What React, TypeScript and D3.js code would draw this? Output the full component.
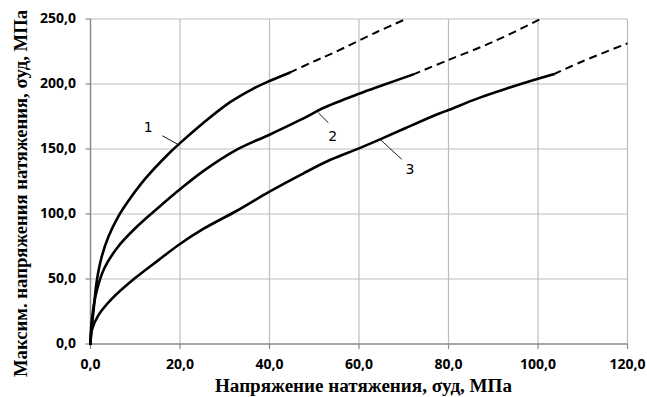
import React from "react";
import * as d3 from "d3";

// Measured curves: [σуд, max stress], MPa
const curve1: [number, number][] = [
  [0, 0], [0.2, 10], [0.63, 24], [1.38, 48], [2.5, 67], [4.0, 82.5], [6.2, 98],
  [8.45, 110], [12.2, 127], [17.8, 147.5], [20, 154.5], [25.2, 170], [31.2, 186],
  [36.4, 196.5], [40, 202.3], [44.5, 208.7],
];
const curve2: [number, number][] = [
  [0, 0], [0.25, 17], [1.4, 41], [3.2, 59], [6.2, 75], [10, 89], [15.2, 105],
  [20, 119], [25.2, 133], [32.7, 149.5], [40, 161], [47.6, 173.5], [52, 181.5],
  [60, 192.5], [65.4, 199.2], [72, 207.2],
];
const curve3: [number, number][] = [
  [0, 0], [0.27, 10.5], [1.75, 22], [4.7, 34.5], [9.9, 50.5], [15.2, 64.5],
  [19.6, 76], [25.2, 88.5], [32.7, 102.5], [40, 117.2], [47.6, 131.3], [53.5, 141.5],
  [60, 150.5], [64.7, 157.4], [71, 167], [78.1, 177.5], [80, 180], [87, 189.5],
  [93, 196.5], [100, 204], [103.5, 207.5],
];

// Extrapolated continuations (dashed)
const trend1: [number, number][] = [[44.5, 208.7], [49.8, 217.2], [54.3, 224], [64, 240], [70.5, 250]];
const trend2: [number, number][] = [[72, 207.2], [80, 218.5], [90, 232.5], [100.6, 250]];
const trend3: [number, number][] = [[103.5, 207.5], [110, 217.5], [120, 231.3]];

const xTicks = [0, 20, 40, 60, 80, 100, 120];
const yTicks = [0, 50, 100, 150, 200, 250];

// Curve labels with leader lines: [text position, leader start, leader end]
const curveLabels: { text: string; at: [number, number]; from: [number, number]; to: [number, number] }[] = [
  { text: "1", at: [12.92, 162.8], from: [16.04, 160.2], to: [19.55, 153.5] },
  { text: "2", at: [54.12, 156.4], from: [50.9, 177.9], to: [53.14, 170.2] },
  { text: "3", at: [71.4, 130.8], from: [64.69, 157.5], to: [69.54, 142.1] },
];

const xTitle = "Напряжение натяжения, σуд, МПа";
const yTitle = "Максим. напряжения натяжения, σуд, МПа";

const W = 647;
const H = 397;

const fmt = (v: number) => v.toFixed(1).replace(".", ",");

export default function App() {
  const x = d3.scaleLinear().domain([0, 120]).range([90.5, 627.5]);
  const y = d3.scaleLinear().domain([0, 250]).range([344, 19]);

  const line = d3
    .line<[number, number]>()
    .x((d) => x(d[0]))
    .y((d) => y(d[1]))
    .curve(d3.curveCatmullRom.alpha(0.5));

  const tickFont = "'Open Sans', sans-serif";
  const labelFont = "'DejaVu Sans', sans-serif";
  const titleFont = "'Liberation Serif', 'Times New Roman', serif";

  return (
    <svg
      width={W}
      height={H}
      style={{ position: "absolute", left: 0, top: 0, background: "#fff" }}
    >
      <rect x={0} y={0} width={W} height={H} fill="#fff" />
      {/* grid */}
      {xTicks.slice(1).map((t) => (
        <line key={"gx" + t} x1={x(t)} x2={x(t)} y1={y(0)} y2={y(250)} stroke="#bdbdbd" strokeWidth={1.2} />
      ))}
      {yTicks.slice(1).map((t) => (
        <line key={"gy" + t} x1={x(0)} x2={x(120)} y1={y(t)} y2={y(t)} stroke="#bdbdbd" strokeWidth={1.2} />
      ))}
      {/* axes */}
      <line x1={x(0)} x2={x(0)} y1={y(0)} y2={y(250)} stroke="#8a8a8a" strokeWidth={1.5} />
      <line x1={x(0)} x2={x(120)} y1={y(0)} y2={y(0)} stroke="#8a8a8a" strokeWidth={1.5} />
      {yTicks.map((t) => (
        <line key={"ty" + t} x1={x(0) - 5} x2={x(0)} y1={y(t)} y2={y(t)} stroke="#8a8a8a" strokeWidth={1.2} />
      ))}
      {xTicks.map((t) => (
        <line key={"tx" + t} x1={x(t)} x2={x(t)} y1={y(0)} y2={y(0) + 5} stroke="#8a8a8a" strokeWidth={1.2} />
      ))}
      {/* tick labels */}
      {yTicks.map((t) => (
        <text
          key={"ly" + t}
          x={76}
          y={y(t) + 4}
          textAnchor="end"
          fontFamily={tickFont}
          fontWeight="bold"
          fontSize={14}
          fill="#000"
        >
          {fmt(t)}
        </text>
      ))}
      {xTicks.map((t) => (
        <text
          key={"lx" + t}
          x={x(t)}
          y={368.7}
          textAnchor="middle"
          fontFamily={tickFont}
          fontWeight="bold"
          fontSize={14}
          fill="#000"
        >
          {fmt(t)}
        </text>
      ))}
      {/* curves */}
      {[trend1, trend2, trend3].map((d, i) => (
        <path key={"tr" + i} d={line(d) || ""} fill="none" stroke="#000" strokeWidth={2} strokeDasharray="8,5" />
      ))}
      {[curve1, curve2, curve3].map((d, i) => (
        <path key={"c" + i} d={line(d) || ""} fill="none" stroke="#000" strokeWidth={2.6} strokeLinejoin="round" strokeLinecap="round" />
      ))}
      {/* curve labels */}
      {curveLabels.map((l) => (
        <g key={"lab" + l.text}>
          <line x1={x(l.from[0])} y1={y(l.from[1])} x2={x(l.to[0])} y2={y(l.to[1])} stroke="#000" strokeWidth={0.9} />
          <text
            x={x(l.at[0])}
            y={y(l.at[1])}
            textAnchor="middle"
            fontFamily={labelFont}
            fontSize={14}
            fill="#000"
          >
            {l.text}
          </text>
        </g>
      ))}
      {/* axis titles */}
      <text
        x={363.5}
        y={392}
        textAnchor="middle"
        fontFamily={titleFont}
        fontWeight="bold"
        fontSize={18}
        textLength={297}
        lengthAdjust="spacingAndGlyphs"
        fill="#000"
      >
        {xTitle}
      </text>
      <text
        transform={`translate(27,193.5) rotate(-90)`}
        textAnchor="middle"
        fontFamily={titleFont}
        fontWeight="bold"
        fontSize={18}
        textLength={367}
        lengthAdjust="spacingAndGlyphs"
        fill="#000"
      >
        {yTitle}
      </text>
    </svg>
  );
}
